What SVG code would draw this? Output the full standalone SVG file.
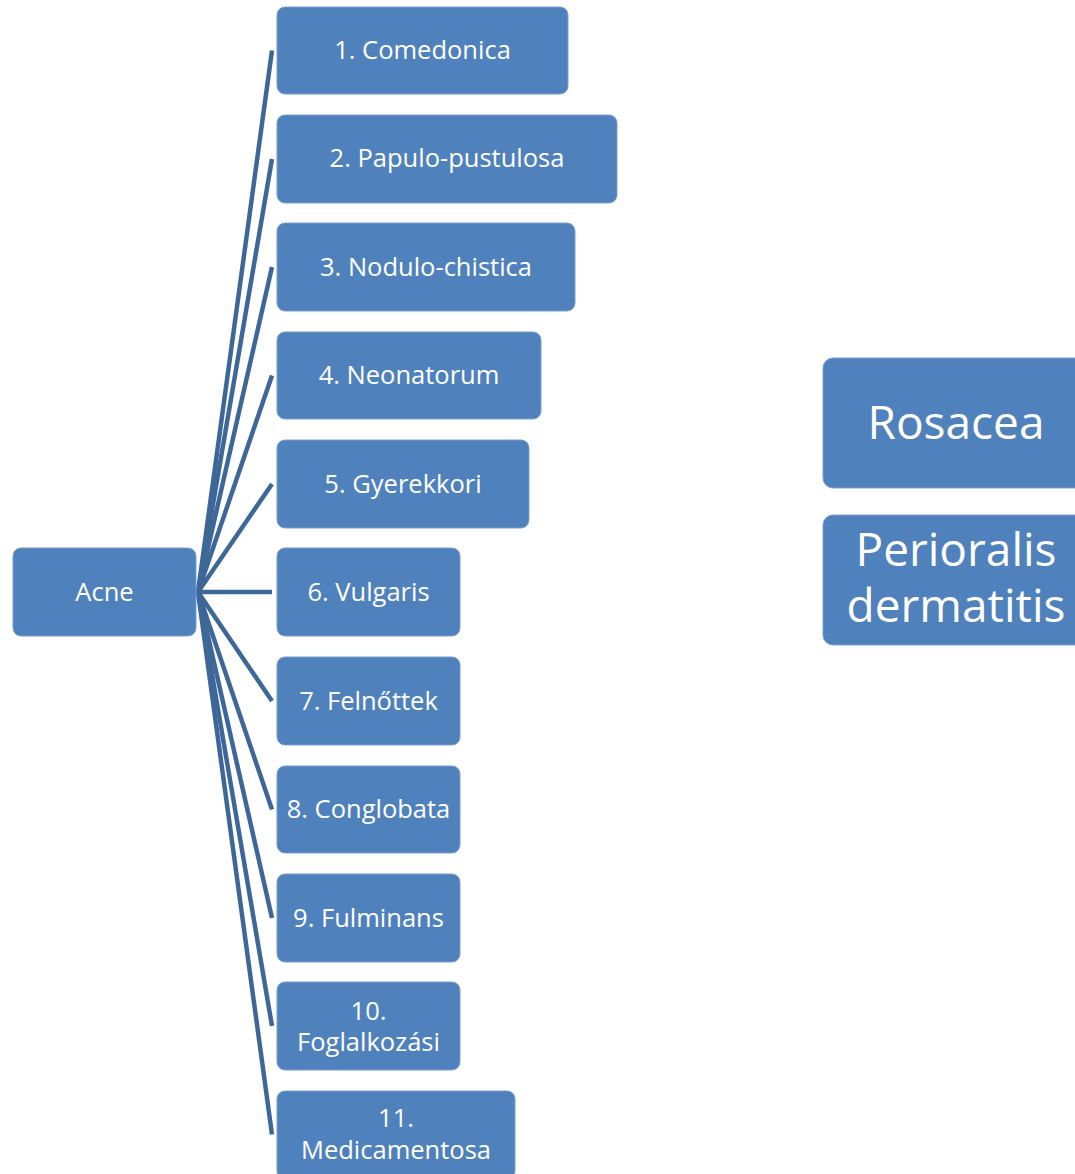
<svg xmlns="http://www.w3.org/2000/svg" width="1075" height="1174" viewBox="0 0 1075 1174">
<style>
.box{fill:#4F81BD;stroke:#7A9FD0;stroke-width:1}
.t{font-family:"Open Sans","Noto Sans",sans-serif;font-size:25.5px;fill:#FFFFFF;text-anchor:middle}
.tl{font-family:"Open Sans","Noto Sans",sans-serif;font-size:46px;fill:#FFFFFF;text-anchor:middle}
.c{stroke:#3D6798;stroke-width:4.5;fill:none;stroke-linecap:butt}
</style>
<rect width="1075" height="1174" fill="#FFFFFF"/>
<g id="connectors">
<line class="c" x1="198" y1="592" x2="272" y2="50.5"/>
<line class="c" x1="198" y1="592" x2="272" y2="159"/>
<line class="c" x1="198" y1="592" x2="272" y2="267"/>
<line class="c" x1="198" y1="592" x2="272" y2="375.5"/>
<line class="c" x1="198" y1="592" x2="272" y2="484"/>
<line class="c" x1="198" y1="592" x2="272" y2="592"/>
<line class="c" x1="198" y1="592" x2="272" y2="701"/>
<line class="c" x1="198" y1="592" x2="272" y2="809.5"/>
<line class="c" x1="198" y1="592" x2="272" y2="918"/>
<line class="c" x1="198" y1="592" x2="272" y2="1026"/>
<line class="c" x1="198" y1="592" x2="272" y2="1134.5"/>
</g>
<g id="acne"><rect class="box" x="13" y="548" width="183" height="88" rx="8"/><text class="t" x="104.5" y="601">Acne</text></g>
<g id="n1"><rect class="box" x="277" y="7" width="291" height="87" rx="8"/><text class="t" x="422.5" y="59">1. Comedonica</text></g>
<g id="n2"><rect class="box" x="277" y="115" width="340" height="88" rx="8"/><text class="t" x="447" y="167">2. Papulo-pustulosa</text></g>
<g id="n3"><rect class="box" x="277" y="223" width="298" height="88" rx="8"/><text class="t" x="426" y="276">3. Nodulo-chistica</text></g>
<g id="n4"><rect class="box" x="277" y="332" width="264" height="87" rx="8"/><text class="t" x="409" y="384">4. Neonatorum</text></g>
<g id="n5"><rect class="box" x="277" y="440" width="252" height="88" rx="8"/><text class="t" x="403" y="493">5. Gyerekkori</text></g>
<g id="n6"><rect class="box" x="277" y="548" width="183" height="88" rx="8"/><text class="t" x="368.5" y="601">6. Vulgaris</text></g>
<g id="n7"><rect class="box" x="277" y="657" width="183" height="88" rx="8"/><text class="t" x="368.5" y="710">7. Felnőttek</text></g>
<g id="n8"><rect class="box" x="277" y="766" width="183" height="87" rx="8"/><text class="t" x="368.5" y="818">8. Conglobata</text></g>
<g id="n9"><rect class="box" x="277" y="874" width="183" height="88" rx="8"/><text class="t" x="368.5" y="927">9. Fulminans</text></g>
<g id="n10"><rect class="box" x="277" y="982" width="183" height="88" rx="8"/><text class="t" x="368.5" y="1020">10.</text><text class="t" x="368.5" y="1051">Foglalkozási</text></g>
<g id="n11"><rect class="box" x="277" y="1091" width="238" height="88" rx="8"/><text class="t" x="396" y="1127">11.</text><text class="t" x="396" y="1159">Medicamentosa</text></g>
<g id="rosacea"><rect class="box" x="823" y="358" width="266" height="130" rx="10"/><text class="tl" x="956" y="439">Rosacea</text></g>
<g id="perioralis"><rect class="box" x="823" y="515" width="266" height="130" rx="10"/><text class="tl" x="956" y="566">Perioralis</text><text class="tl" x="956" y="622">dermatitis</text></g>
</svg>
